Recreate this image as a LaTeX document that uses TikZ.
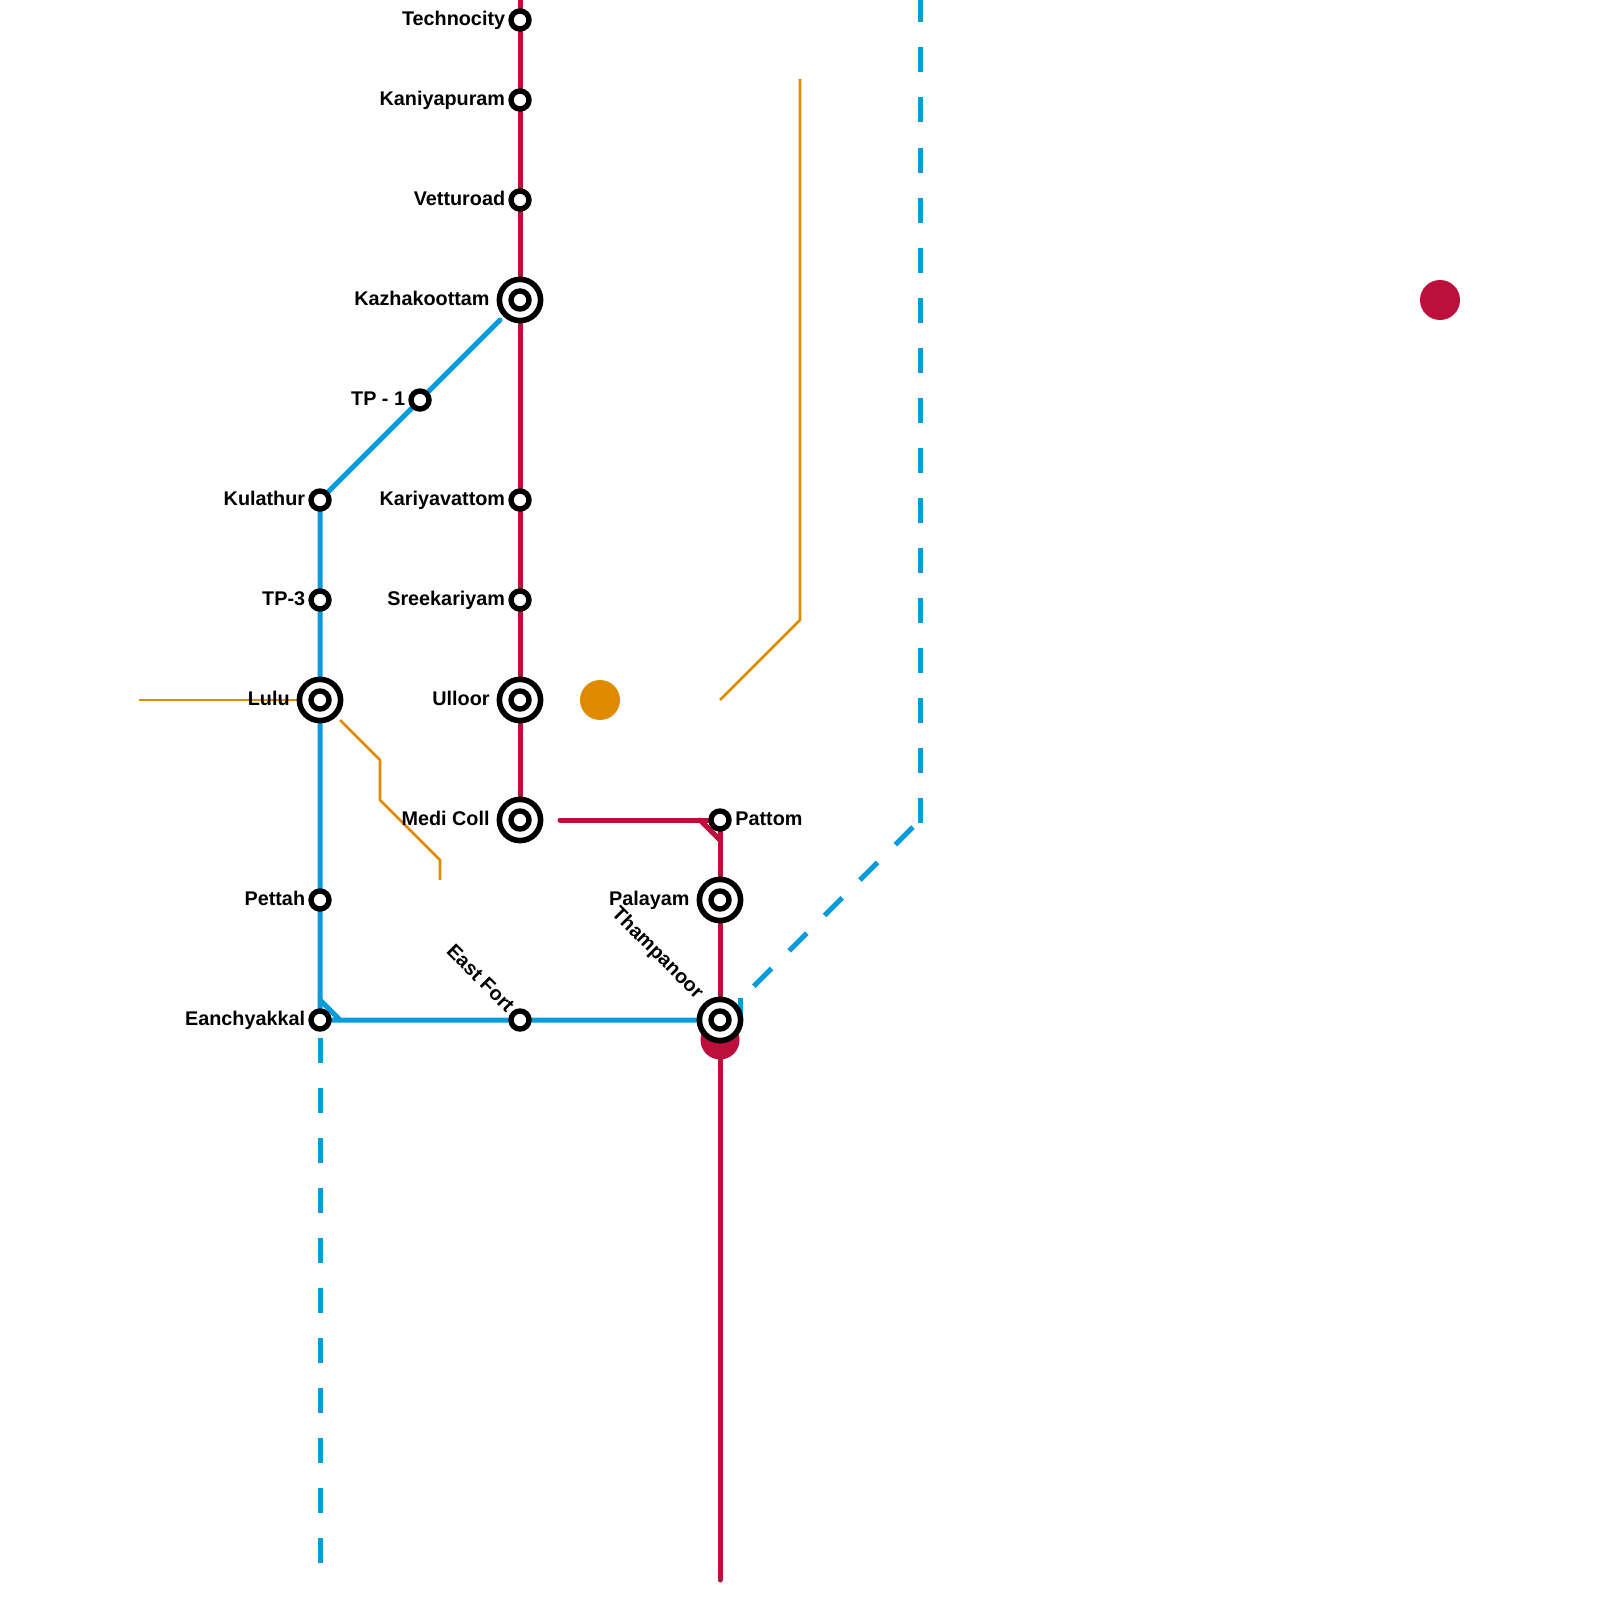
\documentclass[tikz,border=0pt]{standalone}
\usepackage{fontspec}
\setmainfont{Liberation Sans}
\definecolor{metroblue}{RGB}{9, 155, 220}
\definecolor{metrored}{RGB}{188, 15, 60}
\definecolor{metroorange}{RGB}{224, 138, 0}
\usetikzlibrary{positioning, backgrounds}

\begin{document}
\begin{tikzpicture}[
    x=0.5pt, y=-0.5pt,
    stop/.style={circle, draw=black, fill=white, line width=2.7pt, minimum size=9pt, inner sep=0pt},
    bigstop/.style={circle, draw=black, fill=white, line width=2.8pt, minimum size=20.6pt, inner sep=0pt},
    stopname/.style={font=\fontsize{9.9}{12}\selectfont\bfseries, inner sep=0pt},
    redline/.style={metrored, line width=2.5pt, line cap=round, line join=round},
    blueline/.style={metroblue, line width=2.5pt, line cap=round, line join=round},
    bluedash/.style={metroblue, line width=2.5pt, dash pattern=on 12.5pt off 12.5pt},
    orangeline/.style={metroorange, line width=1.3pt},
    terminus/.style={circle, inner sep=0pt, minimum size=20pt}
]
\useasboundingbox (0,0) rectangle (1600,1600);

% Paradas de la linea roja
\node[stop] (technocity) at (520,20) {};
\node[stop] (kaniyapuram) at (520,100) {};
\node[stop] (vetturoad) at (520,200) {};
\node[bigstop] (kazhakoottam) at (520,300) {};
\node[stop] (kazhakoottamin) at (kazhakoottam) {};
\node[stop] (kariyavattom) at (520,500) {};
\node[stop] (sreekariyam) at (520,600) {};
\node[bigstop] (ulloor) at (520,700) {};
\node[stop] (ulloorin) at (ulloor) {};
\node[bigstop] (medicoll) at (520,820) {};
\node[stop] (medicollin) at (medicoll) {};
\node[stop] (pattom) at (720,820) {};
\node[bigstop] (palayam) at (720,900) {};
\node[stop] (palayamin) at (palayam) {};
\node[bigstop] (thampanoor) at (720,1020) {};
\node[stop] (thampanoorin) at (thampanoor) {};

% Paradas de la linea azul
\node[stop] (tpone) at (420,400) {};
\node[stop] (kulathur) at (320,500) {};
\node[stop] (tpthree) at (320,600) {};
\node[bigstop] (lulu) at (320,700) {};
\node[stop] (luluin) at (lulu) {};
\node[stop] (pettah) at (320,900) {};
\node[stop] (eanchyakkal) at (320,1020) {};
\node[stop] (eastfort) at (520,1020) {};

% Nombres
\path (technocity) ++(-14.5,5.2) node[stopname, anchor=base east] (technocityname) {Technocity};
\path (kaniyapuram) ++(-14.5,5.2) node[stopname, anchor=base east] (kaniyapuramname) {Kaniyapuram};
\path (vetturoad) ++(-14.5,5.2) node[stopname, anchor=base east] (vetturoadname) {Vetturoad};
\path (kazhakoottam) ++(-30,5.2) node[stopname, anchor=base east] (kazhakoottamname) {Kazhakoottam};
\path (tpone) ++(-14.5,5.2) node[stopname, anchor=base east] (tponename) {TP - 1};
\path (kulathur) ++(-14.5,5.2) node[stopname, anchor=base east] (kulathurname) {Kulathur};
\path (kariyavattom) ++(-14.5,5.2) node[stopname, anchor=base east] (kariyavattomname) {Kariyavattom};
\path (tpthree) ++(-14.5,5.2) node[stopname, anchor=base east] (tpthreename) {TP-3};
\path (sreekariyam) ++(-14.5,5.2) node[stopname, anchor=base east] (sreekariyamname) {Sreekariyam};
\path (lulu) ++(-30,5.2) node[stopname, anchor=base east] (luluname) {Lulu};
\path (ulloor) ++(-30,5.2) node[stopname, anchor=base east] (ulloorname) {Ulloor};
\path (medicoll) ++(-30,5.2) node[stopname, anchor=base east] (medicollname) {Medi Coll};
\path (pattom) ++(15,5.2) node[stopname, anchor=base west] (pattomname) {Pattom};
\path (pettah) ++(-14.5,5.2) node[stopname, anchor=base east] (pettahname) {Pettah};
\path (palayam) ++(-30,5.2) node[stopname, anchor=base east] (palayamname) {Palayam};
\path (eanchyakkal) ++(-14.5,5.2) node[stopname, anchor=base east] (eanchyakkalname) {Eanchyakkal};
\path (eastfort) ++(-13.5,-6.5) node[stopname, anchor=base east, rotate=-45] (eastfortname) {East Fort};
\path (thampanoor) ++(-24,-20) node[stopname, anchor=base east, rotate=-45] (thampanoorname) {Thampanoor};

% Puntos de color
\node[terminus, fill=metrored] (redspot) at (1440,300) {};
\node[terminus, fill=metroorange] (orangespot) at (600,700) {};

% Extremos y esquinas
\coordinate (redtop) at (520,0);
\coordinate (redstart) at (560,820);
\coordinate (redbend) at (700,820);
\coordinate (redjoin) at (720,840);
\coordinate (redend) at (720,1580);
\coordinate (bluenorth) at (500,320);
\coordinate (bluebend) at (320,1000);
\coordinate (bluejoin) at (340,1020);
\coordinate (southdashtop) at (320,1037.5);
\coordinate (southdashend) at (320,1562.5);
\coordinate (eastdashtop) at (920,-2.5);
\coordinate (eastdashend) at (920,822.5);
\coordinate (diagdashtop) at (912.93,827.07);
\coordinate (diagdashend) at (747,993);
\coordinate (stubtop) at (740,997.5);
\coordinate (stubend) at (740,1020);
\coordinate (orangewest) at (139,700);
\coordinate (orangea) at (340,720);
\coordinate (orangeb) at (380,760);
\coordinate (orangec) at (380,800);
\coordinate (oranged) at (440,860);
\coordinate (orangee) at (440,880);
\coordinate (orangef) at (800,79);
\coordinate (orangeg) at (800,620);
\coordinate (orangeh) at (720,700);

\begin{scope}[on background layer]
    % Ramal naranja
    \draw[orangeline] (orangewest) -- (lulu.center);
    \draw[orangeline] (orangea) -- (orangeb) -- (orangec) -- (oranged) -- (orangee);
    \draw[orangeline] (orangef) -- (orangeg) -- (orangeh);

    % Linea roja
    \node[terminus, fill=metrored, minimum size=19.5pt] (redcap) at (720,1040) {};
    \draw[redline] (redtop) -- (medicoll.center);
    \draw[redline] (redstart) -- (pattom.center) -- (redend);
    \draw[redline] (redbend) -- (redjoin);

    % Linea azul
    \draw[blueline] (bluenorth) -- (kulathur.center) -- (eanchyakkal.center) -- (thampanoor.center);
    \draw[blueline] (bluebend) -- (bluejoin);
    \draw[bluedash] (southdashtop) -- (southdashend);
    \draw[bluedash] (eastdashtop) -- (eastdashend);
    \draw[bluedash] (diagdashtop) -- (diagdashend);
    \draw[metroblue, line width=2.5pt] (stubtop) -- (stubend);
\end{scope}

\end{tikzpicture}
\end{document}
